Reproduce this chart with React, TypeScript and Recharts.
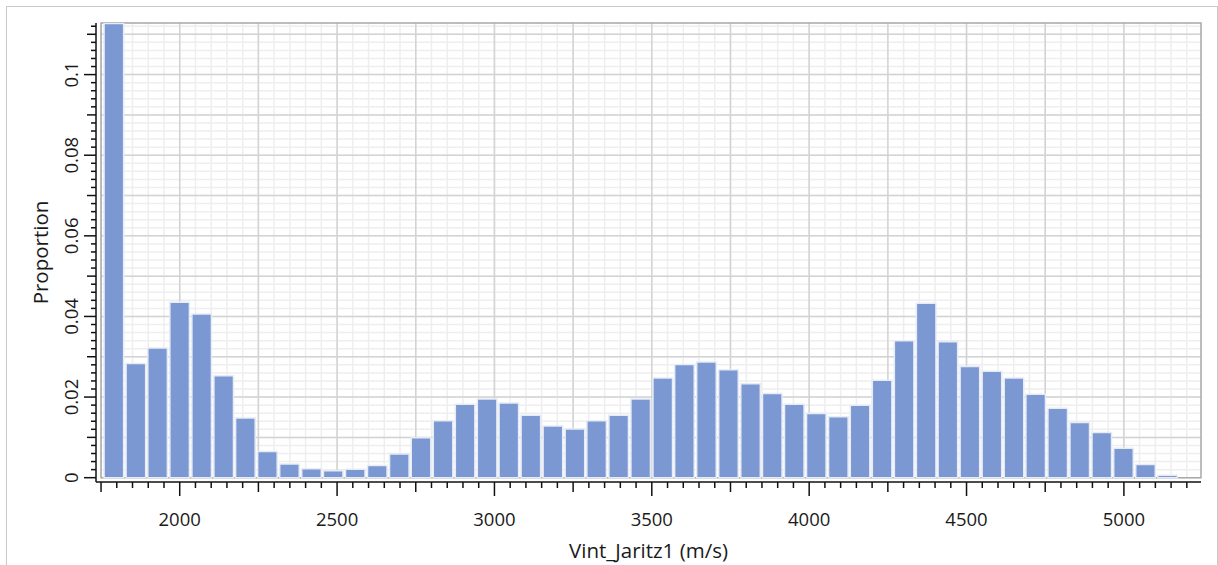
import { Bar, BarChart, CartesianGrid, ReferenceArea, XAxis, YAxis } from "recharts";

// histogram bins (centre of each bin, m/s) and their proportions
const BIN_CENTERS = [
  1791, 1861, 1930, 2000, 2070, 2140, 2209, 2279, 2349, 2419, 2488, 2558, 2628,
  2698, 2767, 2837, 2907, 2977, 3046, 3116, 3186, 3256, 3325, 3395, 3465, 3535,
  3604, 3674, 3744, 3814, 3883, 3953, 4023, 4093, 4162, 4232, 4302, 4372, 4441,
  4511, 4581, 4651, 4720, 4790, 4860, 4930, 4999, 5069, 5139,
];
const PROPORTIONS = [
  0.1127, 0.0283, 0.0322, 0.0435, 0.0406, 0.0253, 0.0148, 0.0065, 0.0034, 0.0022,
  0.0017, 0.0021, 0.003, 0.0059, 0.0099, 0.0141, 0.0182, 0.0195, 0.0185, 0.0155,
  0.0128, 0.0121, 0.0141, 0.0155, 0.0195, 0.0247, 0.0281, 0.0287, 0.0268, 0.0233,
  0.0209, 0.0182, 0.0159, 0.0151, 0.018, 0.0242, 0.034, 0.0433, 0.0337, 0.0276,
  0.0264, 0.0247, 0.0207, 0.0172, 0.0137, 0.0112, 0.0073, 0.0033, 0.0006,
];
const X_LABEL_TICKS = [2000, 2500, 3000, 3500, 4000, 4500, 5000];
const Y_LABEL_TICKS = [0, 0.02, 0.04, 0.06, 0.08, 0.1];

const data = BIN_CENTERS.map((x, i) => ({ x, p: PROPORTIONS[i] }));

// axis lines sit a few px outside the framed plot, so domains extend a bit past the frame
const X_DOMAIN: [number, number] = [1734, 5245];
const Y_DOMAIN: [number, number] = [-0.00107, 0.1128];
const FRAME_X: [number, number] = [1750, 5245];
const FRAME_Y: [number, number] = [0, 0.1128];

const W = 1218;
const H = 565;
const MARGIN = { top: 23, right: 17, bottom: 0, left: 0 };
const Y_AXIS_W = 96;
const X_AXIS_H = 83;
const GUTTER = 5;

function steps(from: number, to: number, step: number) {
  const out: number[] = [];
  for (let i = 0; from + i * step <= to + step / 1000; i++) out.push(+(from + i * step).toFixed(4));
  return out;
}

const X_MINOR = steps(1750, 5200, 50);
const X_MID = steps(2000, 5000, 250);
const Y_MINOR = steps(0, 0.112, 0.002);
const Y_MID = steps(0.01, 0.11, 0.01);

const FONT = "'Open Sans', 'Noto Sans', sans-serif";
const INK = "#1a1a1a";
const TICK_FS = 18.5;
const TITLE_FS = 20.5;

function XTick(props: any) {
  const { x, y, payload } = props;
  const v = payload.value as number;
  const len = v % 500 === 0 ? 14 : v % 250 === 0 ? 10 : 6;
  return (
    <g>
      <line x1={x} x2={x} y1={y} y2={y + len} stroke="#111" strokeWidth={1.5} />
      {X_LABEL_TICKS.includes(v) && (
        <text x={x} y={y + 36} textAnchor="middle" dominantBaseline="central" fill={INK} fontSize={TICK_FS} fontFamily={FONT}>
          {v}
        </text>
      )}
    </g>
  );
}

function YTick(props: any) {
  const { x, y, payload } = props;
  const v = payload.value as number;
  const k = Math.round(v / 0.002);
  const len = k % 10 === 0 ? 12 : k % 5 === 0 ? 9 : 5;
  const isLabel = Y_LABEL_TICKS.some((t) => Math.abs(t - v) < 1e-9);
  const tx = x - 25;
  return (
    <g>
      <line x1={x} x2={x - len} y1={y} y2={y} stroke="#111" strokeWidth={1.5} />
      {isLabel && (
        <text
          x={tx}
          y={y}
          transform={`rotate(-90 ${tx} ${y})`}
          textAnchor="middle"
          dominantBaseline="central"
          fill={INK}
          fontSize={TICK_FS}
          fontFamily={FONT}
        >
          {String(+v.toFixed(3))}
        </text>
      )}
    </g>
  );
}

export default function App() {
  const frameLeft = MARGIN.left + Y_AXIS_W + GUTTER;
  const frameTop = MARGIN.top;
  const frameW = W - MARGIN.right - frameLeft;
  const frameH = H - X_AXIS_H - GUTTER - frameTop;

  return (
    <div style={{ position: "absolute", left: 0, top: 0, width: W, height: H, overflow: "hidden", background: "#fff" }}>
      <div
        style={{
          position: "absolute",
          left: 6,
          top: 6,
          width: 1210,
          height: 600,
          border: "1px solid #c9c9c9",
        }}
      />
      <BarChart width={W} height={H} data={data} margin={MARGIN} style={{ position: "absolute", left: 0, top: 0, fontFamily: FONT }}>
        <CartesianGrid
          x={frameLeft}
          y={frameTop}
          width={frameW}
          height={frameH}
          stroke="#eeeeee"
          strokeWidth={1.5}
          horizontalValues={Y_MINOR}
          verticalValues={X_MINOR}
        />
        <CartesianGrid
          x={frameLeft}
          y={frameTop}
          width={frameW}
          height={frameH}
          stroke="#d3d3d3"
          strokeWidth={1.5}
          horizontalValues={Y_MID}
          verticalValues={X_MID}
        />
        <XAxis
          dataKey="x"
          type="number"
          domain={X_DOMAIN}
          allowDataOverflow
          ticks={X_MINOR}
          interval={0}
          height={X_AXIS_H}
          tickSize={0}
          tickMargin={0}
          tickLine={false}
          tick={XTick}
          axisLine={{ stroke: "#111", strokeWidth: 1.5 }}
          label={{ value: "Vint_Jaritz1 (m/s)", position: "insideBottom", offset: 7, fill: INK, fontSize: TITLE_FS, fontFamily: FONT }}
        />
        <YAxis
          type="number"
          domain={Y_DOMAIN}
          allowDataOverflow
          ticks={Y_MINOR}
          interval={0}
          width={Y_AXIS_W}
          tickSize={0}
          tickMargin={0}
          tickLine={false}
          tick={YTick}
          axisLine={{ stroke: "#111", strokeWidth: 1.5 }}
          label={{
            value: "Proportion",
            angle: -90,
            position: "insideLeft",
            offset: 41,
            fill: INK,
            fontSize: TITLE_FS,
            fontFamily: FONT,
            style: { textAnchor: "middle" },
          }}
        />
        <Bar dataKey="p" fill="#7b98d2" barSize={22} stroke="#e6ebf5" strokeWidth={1.5} isAnimationActive={false} />
        <ReferenceArea
          x1={FRAME_X[0]}
          x2={FRAME_X[1]}
          y1={FRAME_Y[0]}
          y2={FRAME_Y[1]}
          fill="none"
          stroke="#a8a8a8"
          strokeWidth={1.5}
          ifOverflow="visible"
        />
      </BarChart>
    </div>
  );
}
